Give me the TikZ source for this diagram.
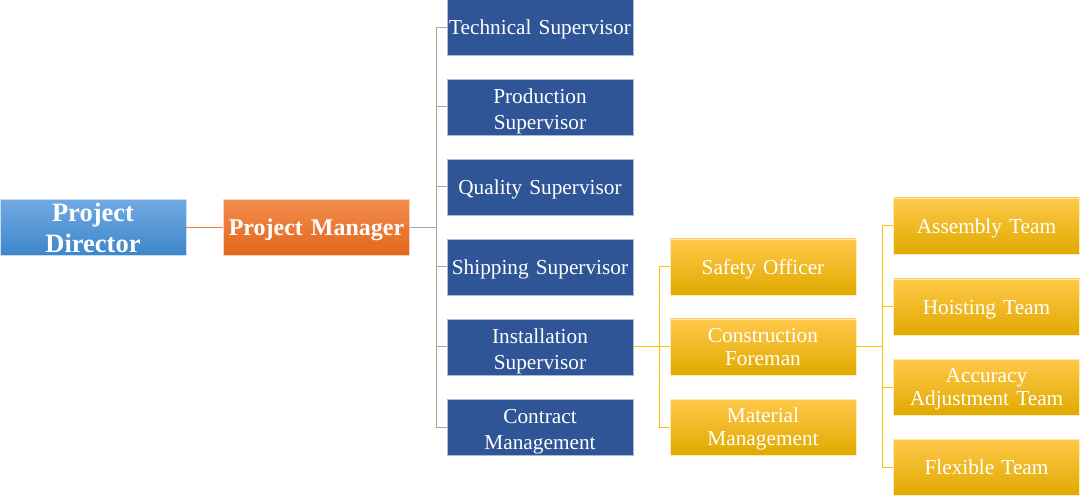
\documentclass[tikz,border=0pt]{standalone}
\usepackage{fontspec}
\setmainfont{Liberation Serif}
\definecolor{bluebox}{HTML}{2F5597}
\definecolor{pdtop}{HTML}{71AAE2}
\definecolor{pdbot}{HTML}{3E85CA}
\definecolor{pmtop}{HTML}{F38D4F}
\definecolor{pmbot}{HTML}{E2661A}
\definecolor{yetop}{HTML}{FFC84A}
\definecolor{yemid}{HTML}{FFC000}
\definecolor{yebot}{HTML}{E0AA00}
\definecolor{linegray}{HTML}{A6A6A6}
\definecolor{lineorange}{HTML}{ED7D31}
\newcommand\lowstrut{\rule{0pt}{23pt}}
\newcommand\midstrut{\rule{0pt}{19pt}}
\begin{document}
\begin{tikzpicture}[x=1pt,y=-1pt,
  base/.style={rectangle, minimum width=186pt, minimum height=56pt, inner sep=0pt,
    text width=186pt, align=center, text=white, line width=0.8pt},
  oneline/.style={text depth=0pt},
  pdbox/.style={base, font=\fontsize{26.5}{31}\selectfont\bfseries, top color=pdtop, bottom color=pdbot, draw=pdtop!40!white},
  pmbox/.style={base, font=\fontsize{24}{31}\selectfont\bfseries, top color=pmtop, bottom color=pmbot, draw=pmtop!40!white},
  bluenode/.style={base, fill=bluebox, draw=bluebox!40!white, font=\fontsize{21.3}{26}\selectfont},
  yellownode/.style={base, top color=yetop, middle color=yemid, bottom color=yebot, draw=yetop!40!white, font=\fontsize{21.3}{23}\selectfont},
  graylink/.style={draw=linegray, line width=1pt},
  orangelink/.style={draw=lineorange, line width=1pt},
  yellowlink/.style={draw=yemid, line width=1pt}
]
\useasboundingbox (0,0) rectangle (1080,497);

\node[pdbox] (pd) at (93,227.5) {Project\\Director};
\node[pmbox, oneline] (pm) at (316.5,227.5) {Project Manager};

\node[bluenode, oneline] (tech) at (540,27.5) {Technical Supervisor};
\node[bluenode] (prod) at (540,107) {\lowstrut Production\\Supervisor};
\node[bluenode, oneline] (qual) at (540,187) {Quality Supervisor};
\node[bluenode, oneline] (ship) at (540,267) {Shipping Supervisor};
\node[bluenode] (inst) at (540,347) {\lowstrut Installation\\Supervisor};
\node[bluenode] (cont) at (540,427) {\lowstrut Contract\\Management};

\node[yellownode, oneline] (safe) at (763,267) {Safety Officer};
\node[yellownode] (fore) at (763,347) {Construction\\Foreman};
\node[yellownode] (mat) at (763,427) {\midstrut Material\\Management};

\node[yellownode, oneline] (asm) at (986.5,226) {Assembly Team};
\node[yellownode, oneline] (hoist) at (986.5,307) {Hoisting Team};
\node[yellownode] (acc) at (986.5,387) {\midstrut Accuracy\\Adjustment Team};
\node[yellownode, oneline] (flex) at (986.5,467) {Flexible Team};

\coordinate (j1) at (436,227.5);
\coordinate (j2) at (659,347);
\coordinate (j3) at (882,347);

\draw[orangelink] (pd.east) -- (pm.west);

\draw[graylink] (pm.east) -- (j1);
\foreach \n in {tech,prod,qual,ship,inst,cont} \draw[graylink] (j1) |- (\n.west);

\draw[yellowlink] (inst.east) -- (j2);
\foreach \n in {safe,fore,mat} \draw[yellowlink] (j2) |- (\n.west);

\draw[yellowlink] (fore.east) -- (j3);
\foreach \n in {asm,hoist,acc,flex} \draw[yellowlink] (j3) |- (\n.west);
\end{tikzpicture}
\end{document}
